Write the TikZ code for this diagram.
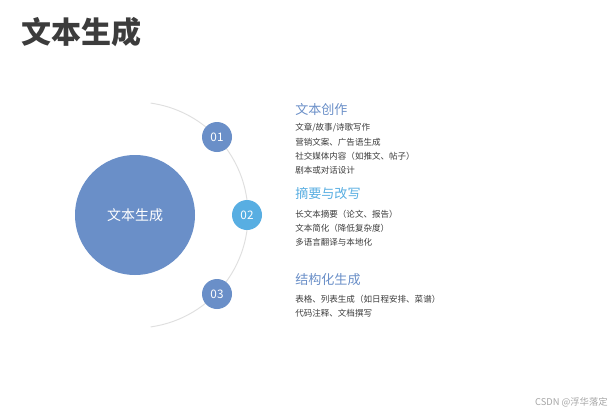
\documentclass[tikz,border=0pt]{standalone}
\usepackage{fontspec}
\setmainfont{Noto Sans CJK SC}
\definecolor{hubblue}{RGB}{106,143,200}
\definecolor{skyblue}{RGB}{88,174,226}
\definecolor{textgray}{RGB}{60,60,60}

\begin{document}
\begin{tikzpicture}[x=0.75pt, y=-0.75pt,
    hub/.style={circle, fill=hubblue, text=white, minimum size=90pt, inner sep=0pt, font=\fontsize{10.5}{12}\selectfont},
    numdot/.style={circle, fill=#1, text=white, minimum size=22.5pt, inner sep=0pt, font=\fontsize{8.8}{10}\selectfont},
    headline/.style={anchor=west, inner sep=0pt, text=#1, font=\fontsize{9.8}{11}\selectfont},
    item/.style={anchor=west, inner sep=0pt, text=textgray, font=\fontsize{6.4}{7.5}\selectfont}]
    \useasboundingbox[fill=white] (0,0) rectangle (616,414);

    % Title
    \node[anchor=west, inner sep=0pt, text=textgray, font=\fontsize{22.5}{26}\selectfont\bfseries] (title) at (21,32) {文本生成};

    % Center circle and the arc
    \coordinate (ctr) at (135,215);
    \draw[gray!25, line width=0.7pt] (ctr) ++(82:113) arc[start angle=82, end angle=-82, radius=113];
    \node[hub] (main) at (ctr) {文本生成};

    % Numbered dots
    \node[numdot=hubblue] (n1) at (217,137) {01};
    \node[numdot=skyblue] (n2) at (247,215) {02};
    \node[numdot=hubblue] (n3) at (217,294) {03};

    % Text creation
    \node[headline=hubblue] (h1) at (295,109) {文本创作};
    \node[item] (a1) at (295,128) {文章/故事/诗歌写作};
    \node[item] (a2) at (295,142) {营销文案、广告语生成};
    \node[item] (a3) at (295,156) {社交媒体内容（如推文、帖子）};
    \node[item] (a4) at (295,170) {剧本或对话设计};

    % Summary and rewriting
    \node[headline=skyblue] (h2) at (295,194) {摘要与改写};
    \node[item] (b1) at (295,214) {长文本摘要（论文、报告）};
    \node[item] (b2) at (295,228) {文本简化（降低复杂度）};
    \node[item] (b3) at (295,242) {多语言翻译与本地化};

    % Structured output
    \node[headline=hubblue] (h3) at (295,280) {结构化生成};
    \node[item] (c1) at (295,299) {表格、列表生成（如日程安排、菜谱）};
    \node[item] (c2) at (295,313) {代码注释、文档撰写};

    % Watermark
    \node[anchor=east, inner sep=0pt, text=gray!70, font=\fontsize{7}{8}\selectfont] (mark) at (608,402) {CSDN @浮华落定};
\end{tikzpicture}
\end{document}
